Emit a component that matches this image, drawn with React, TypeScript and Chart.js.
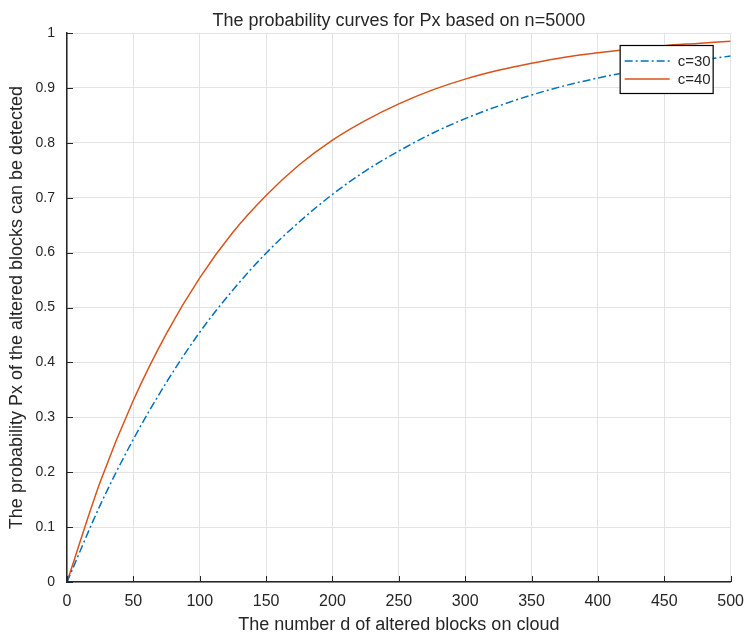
import { useEffect, useRef } from 'react';
import { Chart, registerables } from 'chart.js';

Chart.register(...registerables);

const titleText = 'The probability curves for Px based on n=5000';
const xTitleText = 'The number d of altered blocks on cloud';
const yTitleText = 'The probability Px of the altered blocks can be detected';
const dValues = [0, 25, 50, 75, 100, 125, 150, 175, 200, 225, 250, 275, 300, 325, 350, 375, 400, 425, 450, 475, 500];
const c30Values = [0, 0.14, 0.26, 0.364, 0.455, 0.532, 0.599, 0.656, 0.706, 0.749, 0.785, 0.817, 0.844, 0.867, 0.887, 0.904, 0.918, 0.93, 0.941, 0.95, 0.958];
const c40Values = [0, 0.182, 0.331, 0.453, 0.554, 0.637, 0.704, 0.76, 0.805, 0.841, 0.871, 0.896, 0.916, 0.932, 0.945, 0.956, 0.964, 0.971, 0.977, 0.981, 0.985];
const seriesLabels = ['c=30', 'c=40'];
const xTicks = [0, 50, 100, 150, 200, 250, 300, 350, 400, 450, 500];
const yTicks = [0, 0.1, 0.2, 0.3, 0.4, 0.5, 0.6, 0.7, 0.8, 0.9, 1];

const BLUE = '#0072BD';
const ORANGE = '#D95319';
const AXIS = '#262626';
const FONT = "'Liberation Sans', Arial, Helvetica, sans-serif";
const DASHDOT = [8, 3, 2, 3];

const inwardTicks = {
  id: 'inwardTicks',
  afterDatasetsDraw(chart: any) {
    const { ctx, chartArea, scales } = chart;
    ctx.save();
    ctx.strokeStyle = AXIS;
    ctx.lineWidth = 1;
    yTicks.forEach((v) => {
      const y = Math.round(scales.y.getPixelForValue(v)) + 0.5;
      ctx.beginPath();
      ctx.moveTo(chartArea.left, y);
      ctx.lineTo(chartArea.left + 6, y);
      ctx.stroke();
    });
    xTicks.forEach((v) => {
      const x = Math.round(scales.x.getPixelForValue(v)) + 0.5;
      ctx.beginPath();
      ctx.moveTo(x, chartArea.bottom);
      ctx.lineTo(x, chartArea.bottom - 6);
      ctx.stroke();
    });
    ctx.restore();
  },
};

const axesTitle = {
  id: 'axesTitle',
  afterDraw(chart: any) {
    const { ctx, chartArea } = chart;
    ctx.save();
    ctx.font = `18px ${FONT}`;
    ctx.fillStyle = AXIS;
    ctx.textAlign = 'center';
    ctx.textBaseline = 'middle';
    ctx.fillText(titleText, (chartArea.left + chartArea.right) / 2, 21);
    ctx.restore();
  },
};

const boxLegend = {
  id: 'boxLegend',
  afterDraw(chart: any) {
    const { ctx, chartArea } = chart;
    const w = 93;
    const h = 48;
    const x0 = chartArea.right - 18 - w;
    const y0 = chartArea.top + 12;
    ctx.save();
    ctx.fillStyle = '#ffffff';
    ctx.fillRect(x0, y0, w, h);
    ctx.strokeStyle = '#000000';
    ctx.lineWidth = 1.2;
    ctx.strokeRect(x0 + 0.5, y0 + 0.5, w, h);
    const items = [
      { label: seriesLabels[0], color: BLUE, dash: DASHDOT },
      { label: seriesLabels[1], color: ORANGE, dash: [] as number[] },
    ];
    ctx.font = `15px ${FONT}`;
    ctx.textBaseline = 'middle';
    items.forEach((it, i) => {
      const y = y0 + 16 + i * 18;
      ctx.strokeStyle = it.color;
      ctx.lineWidth = 1.5;
      ctx.setLineDash(it.dash);
      ctx.beginPath();
      ctx.moveTo(x0 + 5, y);
      ctx.lineTo(x0 + 50, y);
      ctx.stroke();
      ctx.setLineDash([]);
      ctx.fillStyle = AXIS;
      ctx.fillText(it.label, x0 + 58, y + 1);
    });
    ctx.restore();
  },
};

export default function App() {
  const ref = useRef<HTMLCanvasElement>(null);
  useEffect(() => {
    if (!ref.current) return;
    const chart = new Chart(ref.current, {
      type: 'line',
      data: {
        datasets: [
          {
            label: seriesLabels[0],
            data: dValues.map((d, i) => ({ x: d, y: c30Values[i] })),
            borderColor: BLUE,
            borderWidth: 1.5,
            borderDash: DASHDOT,
            pointRadius: 0,
            cubicInterpolationMode: 'monotone',
            fill: false,
          },
          {
            label: seriesLabels[1],
            data: dValues.map((d, i) => ({ x: d, y: c40Values[i] })),
            borderColor: ORANGE,
            borderWidth: 1.5,
            pointRadius: 0,
            cubicInterpolationMode: 'monotone',
            fill: false,
          },
        ],
      },
      options: {
        animation: false,
        responsive: false,
        maintainAspectRatio: false,
        layout: { padding: { left: 0, right: 13, top: 33, bottom: 0 } },
        plugins: {
          legend: { display: false },
          tooltip: { enabled: false },
          title: { display: false },
        },
        scales: {
          x: {
            type: 'linear',
            min: 0,
            max: 500,
            afterBuildTicks(scale: any) {
              scale.ticks = xTicks.map((v) => ({ value: v }));
            },
            afterFit(scale: any) {
              scale.height = 54;
            },
            grid: { color: '#e3e3e3', drawTicks: false, tickLength: 0 },
            border: { display: true, color: AXIS, width: 1.5 },
            ticks: {
              color: AXIS,
              font: { family: FONT, size: 16 },
              padding: 10,
              maxRotation: 0,
              callback: (v: any) => String(v),
            },
            title: {
              display: true,
              text: xTitleText,
              color: AXIS,
              font: { family: FONT, size: 18 },
              padding: { top: 0, bottom: 0 },
            },
          },
          y: {
            type: 'linear',
            min: 0,
            max: 1,
            afterBuildTicks(scale: any) {
              scale.ticks = yTicks.map((v) => ({ value: v }));
            },
            afterFit(scale: any) {
              scale.width = 67;
            },
            grid: { color: '#e3e3e3', drawTicks: false, tickLength: 0 },
            border: { display: true, color: AXIS, width: 1.5 },
            ticks: {
              color: AXIS,
              font: { family: FONT, size: 14 },
              padding: 12,
              callback: (v: any) => String(Math.round(v * 10) / 10),
            },
            title: {
              display: true,
              text: yTitleText,
              color: AXIS,
              font: { family: FONT, size: 18 },
              padding: { top: 6, bottom: 0 },
            },
          },
        },
      },
      plugins: [inwardTicks, axesTitle, boxLegend],
    });
    return () => chart.destroy();
  }, []);
  return (
    <div style={{ position: 'fixed', left: 0, top: 0, width: 754, height: 636, background: '#fff' }}>
      <canvas ref={ref} width={754} height={636} style={{ display: 'block', width: 754, height: 636 }} />
    </div>
  );
}
